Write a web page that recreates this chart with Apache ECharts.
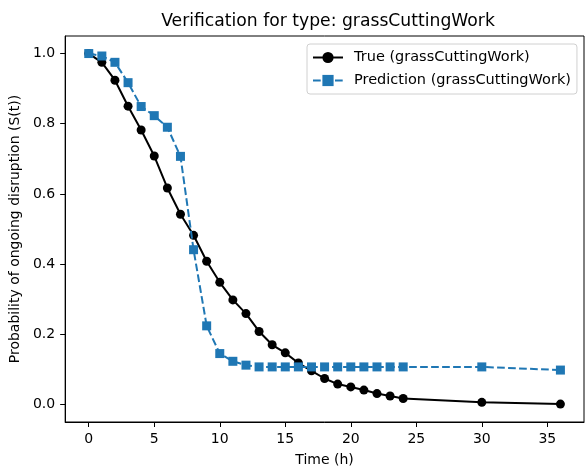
<!DOCTYPE html>
<html>
<head>
<meta charset="utf-8">
<script src="https://cdn.jsdelivr.net/npm/echarts@6/dist/echarts.min.js"></script>
<style>
html,body{margin:0;padding:0;background:#fff;}
#chart{width:585px;height:472px;}
</style>
</head>
<body>
<div id="chart"></div>
<script>
var timeTrue = [0,1,2,3,4,5,6,7,8,9,10,11,12,13,14,15,16,17,18,19,20,21,22,23,24,30,36];
var valuesTrue = [1.0,0.975,0.924,0.85,0.782,0.708,0.617,0.542,0.482,0.408,0.348,0.298,0.259,0.208,0.170,0.147,0.118,0.096,0.074,0.058,0.050,0.041,0.031,0.024,0.017,0.006,0.001];
var timePred = [0,1,2,3,4,5,6,7,8,9,10,11,12,13,14,15,16,17,18,19,20,21,22,23,24,30,36];
var valuesPred = [1.0,0.993,0.975,0.917,0.849,0.823,0.790,0.707,0.441,0.224,0.145,0.123,0.112,0.107,0.107,0.107,0.107,0.107,0.107,0.107,0.107,0.107,0.107,0.107,0.107,0.107,0.098];
var xTicks = [0,5,10,15,20,25,30,35];
var yTicks = [0,0.2,0.4,0.6,0.8,1.0];
var seriesNames = ['True (grassCuttingWork)','Prediction (grassCuttingWork)'];
var titleText = 'Verification for type: grassCuttingWork';

function pairs(xs, ys){ return xs.map(function(x,i){ return [x, ys[i]]; }); }

var chart = echarts.init(document.getElementById('chart'), null, {renderer:'canvas'});
var font = 'DejaVu Sans';
chart.setOption({
  animation:false,
  backgroundColor:'#fff',
  title:{text:titleText,left:323,textAlign:'center',top:8,textStyle:{fontFamily:font,fontSize:17.2,fontWeight:'normal',color:'#000'}},
  grid:{left:64,right:1,top:36,bottom:48,show:true,borderColor:'#000',borderWidth:1,backgroundColor:'transparent'},
  legend:{
    orient:'vertical',left:307,top:44,
    padding:[6,6,6,5],itemGap:8,itemWidth:30,itemHeight:14,
    backgroundColor:'#fff',borderColor:'#d0d0d0',borderWidth:1,borderRadius:3,
    textStyle:{fontFamily:font,fontSize:14.5,color:'#000',padding:[0,0,0,6]},
    data:seriesNames
  },
  xAxis:{
    type:'value',min:-1.8,max:37.8,
    name:'Time (h)',nameLocation:'middle',nameGap:31,
    nameTextStyle:{fontFamily:font,fontSize:14,color:'#000'},
    axisLine:{show:true,onZero:false,lineStyle:{color:'#000',width:1}},
    axisTick:{show:true,length:5,lineStyle:{color:'#000'},customValues:xTicks},
    axisLabel:{fontFamily:font,fontSize:14,color:'#000',margin:10,customValues:xTicks},
    splitLine:{show:false}
  },
  yAxis:{
    type:'value',min:-0.05,max:1.05,
    name:'Probability of ongoing disruption (S(t))',nameLocation:'middle',nameGap:36,
    nameTextStyle:{fontFamily:font,fontSize:14,color:'#000'},
    axisLine:{show:true,onZero:false,lineStyle:{color:'#000',width:1}},
    axisTick:{show:true,length:5,lineStyle:{color:'#000'},customValues:yTicks},
    axisLabel:{fontFamily:font,fontSize:14,color:'#000',margin:10,customValues:yTicks,formatter:function(v){return v.toFixed(1);}},
    splitLine:{show:false}
  },
  series:[
    {name:seriesNames[0],type:'line',data:pairs(timeTrue,valuesTrue),
     symbol:'circle',symbolSize:9,showAllSymbol:true,
     lineStyle:{color:'#000',width:2},itemStyle:{color:'#000'},z:2},
    {name:seriesNames[1],type:'line',data:pairs(timePred,valuesPred),
     symbol:'rect',symbolSize:9,showAllSymbol:true,
     lineStyle:{color:'#1f77b4',width:2,type:[7.7,3.3]},itemStyle:{color:'#1f77b4'},z:3}
  ]
});
</script>
</body>
</html>
